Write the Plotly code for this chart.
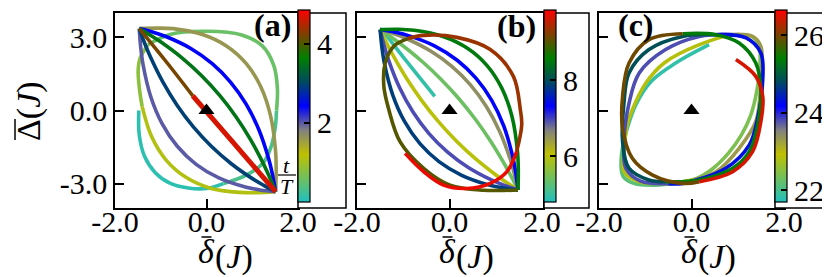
import plotly.graph_objects as go
from plotly.colors import sample_colorscale

W, H = 830, 277
SERIF = "Liberation Serif"

# ---- colour scale (t/T) ----
CSCALE = [[0.0, '#20c0c0'], [0.1, '#60c070'], [0.25, '#c0c000'], [0.375, '#808080'],
          [0.5, '#0000ff'], [0.625, '#004a60'], [0.75, '#008000'], [0.875, '#804000'],
          [1.0, '#ff0000']]

# ---- colour-bar ranges and ticks ----
CRANGE_A = [0.0, 4.85]
CRANGE_B = [4.8, 9.85]
CRANGE_C = [21.7, 26.65]
CTICKS_A = [2, 4]
CTICKS_B = [6, 8]
CTICKS_C = [22, 24, 26]

# ---- axis ticks ----
XTICKS = [-2, 0, 2]
XTICKTEXT = ['-2.0', '0.0', '2.0']
YTICKS = [-3, 0, 3]
YTICKTEXT = ['-3.0', '0.0', '3.0']

# ---- panel (a): time of each arc, delta-bar and Delta-bar points ----
T_A = [0.1, 0.32, 0.55, 0.82, 1.1, 1.6, 2.0, 2.45, 2.95, 3.5, 4.2, 4.65]
DX_A = [
    [-1.48, -1.47, -1.35, -1.12, -0.8, -0.4, 0.0, 0.37],
    [0.37, 0.87, 1.23, 1.4, 1.5, 1.53],
    [1.53, 1.55, 1.47, 1.22, 0.77, 0.0, -0.8, -1.28],
    [-1.28, -1.45, -1.494, -1.464, -1.406],
    [-1.406, -1.203, -0.887, -0.458, 0.084, 0.741, 1.111, 1.51],
    [1.51, 1.523, 1.509, 1.402, 1.189, 0.869, 0.444, -0.088, -0.726, -1.085, -1.47],
    [-1.47, -1.438, -1.386, -1.22, -0.971, -0.639, -0.226, 0.27, 0.849, 1.169, 1.51],
    [1.51, 1.443, 1.36, 1.147, 0.87, 0.529, 0.125, -0.343, -0.875, -1.165, -1.47],
    [-1.47, -1.356, -1.232, -0.955, -0.64, -0.287, 0.105, 0.535, 1.003, 1.252, 1.51],
    [1.51, 1.387, 1.255, 0.966, 0.644, 0.288, -0.101, -0.524, -0.98, -1.221, -1.47],
    [-1.47, -0.88, -0.3],
    [-0.3, 0.6, 1.51],
]
DY_A = [
    [0.0, -1.0, -1.9, -2.55, -2.98, -3.18, -3.2, -3.0],
    [-3.0, -2.65, -2.17, -1.55, -0.73, 0.0],
    [0.0, 0.9, 1.85, 2.65, 3.1, 3.25, 3.12, 2.7],
    [2.7, 2.15, 1.633, 0.864, 0.159],
    [0.159, -1.058, -2.022, -2.731, -3.186, -3.36, -3.37, -3.33],
    [-3.33, -2.465, -1.66, -0.228, 0.966, 1.922, 2.639, 3.117, 3.358, 3.38, 3.36],
    [3.36, 2.595, 1.876, 0.577, -0.537, -1.466, -2.209, -2.768, -3.141, -3.259, -3.33],
    [-3.33, -2.644, -1.994, -0.801, 0.25, 1.157, 1.922, 2.544, 3.024, 3.209, 3.36],
    [3.36, 2.78, 2.222, 1.171, 0.205, -0.674, -1.467, -2.174, -2.795, -3.073, -3.33],
    [-3.33, -2.771, -2.23, -1.206, -0.257, 0.617, 1.416, 2.139, 2.787, 3.083, 3.36],
    [3.36, 2.0, 0.6],
    [0.6, -1.35, -3.33],
]

# ---- panel (b) ----
T_B = [4.95, 5.4, 6.0, 6.55, 6.95, 7.35, 7.85, 8.5, 9.0, 9.35, 9.75]
DX_B = [
    [-0.32, -0.9, -1.43],
    [-1.5, -1.265, -1.036, -0.598, -0.187, 0.199, 0.558, 0.892, 1.199, 1.343, 1.48],
    [1.48, 1.241, 1.009, 0.566, 0.152, -0.235, -0.593, -0.924, -1.226, -1.366, -1.5],
    [-1.5, -1.205, -0.925, -0.409, 0.05, 0.452, 0.795, 1.081, 1.31, 1.402, 1.48],
    [1.48, 1.191, 0.916, 0.406, -0.048, -0.448, -0.793, -1.084, -1.319, -1.416, -1.5],
    [-1.5, -1.177, -0.872, -0.316, 0.166, 0.575, 0.911, 1.174, 1.363, 1.431, 1.48],
    [1.48, 1.146, 0.832, 0.263, -0.228, -0.64, -0.973, -1.227, -1.403, -1.461, -1.5],
    [-1.5, -1.121, -0.768, -0.139, 0.387, 0.811, 1.132, 1.351, 1.467, 1.486, 1.48],
    [1.48, 0.73, 0.01, -0.56, -1.07, -1.32, -1.42, -1.39, -1.2, -0.9],
    [-0.9, -0.56, 0.16, 0.88, 1.38, 1.53, 1.56, 1.45],
    [1.45, 1.24, 0.88, 0.37, -0.13, -0.56, -0.96],
]
DY_B = [
    [0.58, 1.95, 3.25],
    [3.32, 3.017, 2.699, 2.021, 1.285, 0.492, -0.36, -1.269, -2.236, -2.74, -3.26],
    [-3.26, -2.965, -2.655, -1.988, -1.258, -0.467, 0.387, 1.302, 2.28, 2.792, 3.32],
    [3.32, 3.148, 2.944, 2.44, 1.809, 1.05, 0.164, -0.85, -1.991, -2.61, -3.26],
    [-3.26, -3.075, -2.861, -2.34, -1.699, -0.937, -0.054, 0.95, 2.074, 2.682, 3.32],
    [3.32, 3.211, 3.062, 2.644, 2.063, 1.321, 0.418, -0.646, -1.873, -2.546, -3.26],
    [-3.26, -3.174, -3.046, -2.658, -2.096, -1.36, -0.451, 0.632, 1.889, 2.583, 3.32],
    [3.32, 3.334, 3.291, 3.035, 2.552, 1.843, 0.907, -0.255, -1.644, -2.424, -3.26],
    [-3.26, -3.27, -3.06, -2.37, -1.28, 0.09, 1.0, 1.95, 2.65, 2.95],
    [2.95, 3.08, 3.0, 2.5, 1.4, 0.03, -0.59, -1.69],
    [-1.69, -2.51, -2.99, -3.2, -3.06, -2.51, -1.76],
]

# ---- panel (c) ----
T_C = [21.85, 22.15, 22.4, 22.85, 23.3, 23.8, 24.3, 24.85, 25.35, 25.95, 26.45]
DX_C = [
    [0.38, -0.34, -0.87, -1.2, -1.41],
    [-1.41, -1.52, -1.48, -1.23, -0.79, -0.3],
    [-0.3, 0.1, 0.45, 0.8, 1.08, 1.28, 1.41, 1.48, 1.46, 1.3],
    [1.3, 0.89, 0.17, -0.59, -0.99, -1.28, -1.39, -1.46, -1.46, -1.13, -0.56, 0.02],
    [0.02, 0.53, 1.03, 1.39, 1.5, 1.5, 1.32, 0.9],
    [0.9, 0.17, -0.56, -1.13, -1.35, -1.46, -1.42, -1.1, -0.5],
    [-0.5, -0.19, 0.74, 1.25, 1.43, 1.54, 1.5, 1.18, 0.53],
    [0.53, -0.19, -0.92, -1.35, -1.46, -1.49, -1.35, -0.92, -0.56],
    [-0.56, 0.17, 0.89, 1.25, 1.43, 1.5, 1.39, 1.03, 0.53, -0.19],
    [-0.19, -0.92, -1.35, -1.49, -1.49, -1.28, -0.84, -0.19, 0.17],
    [0.17, 0.89, 1.32, 1.5, 1.54, 1.39, 0.96],
]
DY_C = [
    [2.7, 1.95, 1.2, 0.25, -0.86],
    [-0.86, -1.96, -2.7, -3.0, -3.06, -2.97],
    [-2.97, -2.8, -2.4, -1.75, -1.0, -0.2, 0.78, 1.9, 2.7, 3.05],
    [3.05, 3.1, 2.7, 1.95, 1.12, 0.03, -0.59, -1.69, -2.51, -2.92, -2.99, -2.85],
    [-2.85, -2.51, -1.55, -0.45, 1.26, 2.63, 3.04, 3.12],
    [3.12, 3.04, 2.5, 1.54, 0.3, -1.28, -2.37, -2.9, -3.0],
    [-3.0, -2.99, -2.37, -1.41, -0.32, 1.26, 2.36, 2.98, 3.11],
    [3.11, 3.04, 2.5, 1.54, 0.3, -1.28, -2.37, -2.85, -2.92],
    [-2.92, -2.85, -2.37, -1.69, -0.59, 0.85, 1.95, 2.77, 3.11, 3.15],
    [3.15, 2.91, 1.95, 0.58, -0.73, -1.96, -2.65, -2.99, -2.92],
    [-2.92, -2.51, -1.69, -0.45, 0.58, 1.4, 2.09],
]

PANEL_LABELS = ['(a)', '(b)', '(c)']

# ---------------- figure ----------------
fig = go.Figure()

panels = [
    ('x', 'y', 'coloraxis', T_A, DX_A, DY_A, CRANGE_A),
    ('x2', 'y2', 'coloraxis2', T_B, DX_B, DY_B, CRANGE_B),
    ('x3', 'y3', 'coloraxis3', T_C, DX_C, DY_C, CRANGE_C),
]

for xa, ya, cax, T, DX, DY, cr in panels:
    fracs = [(t - cr[0]) / (cr[1] - cr[0]) for t in T]
    cols = sample_colorscale(CSCALE, fracs)
    for k, (xs, ys) in enumerate(zip(DX, DY)):
        wid = 5 if (xa == 'x' and k == len(DX) - 1) else 3.6
        fig.add_trace(go.Scatter(x=xs, y=ys, mode='lines', xaxis=xa, yaxis=ya,
                                 line=dict(color=cols[k], width=wid, shape='spline', smoothing=1.0),
                                 showlegend=False, hoverinfo='skip'))
    # trace carrying the colour bar
    fig.add_trace(go.Scatter(x=[0], y=[0], mode='markers', xaxis=xa, yaxis=ya,
                             marker=dict(size=1, color=[cr[0]], coloraxis=cax),
                             showlegend=False, hoverinfo='skip'))
    fig.add_trace(go.Scatter(x=[0], y=[0], mode='markers', xaxis=xa, yaxis=ya,
                             marker=dict(symbol='triangle-up', size=14, color='black'),
                             showlegend=False, hoverinfo='skip'))


def px(x):
    return x / W


def py(y):
    return 1 - y / H


tickfont = dict(family=SERIF, size=30, color='black')
ydom = [py(200), py(5)]
xdoms = [[px(107), px(290)], [px(349), px(535)], [px(591), px(776)]]

axis_common = dict(ticks='inside', ticklen=9, tickwidth=2, tickcolor='black', showline=True,
                   mirror=True, linecolor='black', linewidth=1.5, showgrid=False,
                   zeroline=False, tickfont=tickfont, fixedrange=True, automargin=False)

layout = dict(width=W, height=H, margin=dict(l=0, r=0, t=0, b=0, autoexpand=False),
              paper_bgcolor='white', plot_bgcolor='white', showlegend=False)

for i, dom in enumerate(xdoms):
    sfx = '' if i == 0 else str(i + 1)
    layout['xaxis' + sfx] = dict(domain=dom, range=[-2, 2.02 if i == 1 else 2], tickvals=XTICKS,
                                 ticktext=XTICKTEXT, anchor='y' + sfx, ticklabelstandoff=-14,
                                 **axis_common)
    layout['yaxis' + sfx] = dict(domain=ydom, range=[-4, 4], tickvals=YTICKS, ticktext=YTICKTEXT,
                                 anchor='x' + sfx, showticklabels=(i == 0), **axis_common)

cb_x = [290, 536, 767]
cb_right = [338, 581, 822]
cranges = [CRANGE_A, CRANGE_B, CRANGE_C]
cticks = [CTICKS_A, CTICKS_B, CTICKS_C]
for i in range(3):
    sfx = '' if i == 0 else str(i + 1)
    layout['coloraxis' + sfx] = dict(
        colorscale=CSCALE, cmin=cranges[i][0], cmax=cranges[i][1],
        colorbar=dict(x=px(cb_x[i]), xanchor='left', xpad=0, y=py(2), yanchor='top', ypad=0,
                      len=192, lenmode='pixels', thickness=12, thicknessmode='pixels',
                      outlinewidth=1.2, outlinecolor='black', tickvals=cticks[i],
                      ticks='inside', ticklen=6, tickwidth=1.5, tickcolor='black',
                      tickfont=dict(family=SERIF, size=30, color='black'),
                      bgcolor='rgba(0,0,0,0)', borderwidth=0))

shapes = []
for i in range(3):
    shapes.append(dict(type='rect', xref='paper', yref='paper', x0=px(cb_x[i]), x1=px(cb_right[i]),
                       y0=py(200), y1=py(5), fillcolor='white', line=dict(color='black', width=1.5),
                       layer='above'))
# fraction bar of t/T
shapes.append(dict(type='line', xref='paper', yref='paper', x0=px(270), x1=px(288), y0=py(167),
                   y1=py(167), line=dict(color='black', width=1.2), layer='above'))
# bars over delta (x titles) and Delta (y title)
for dc in [198.5, 439.5, 681.5]:
    shapes.append(dict(type='line', xref='paper', yref='paper', x0=px(dc - 5), x1=px(dc + 5),
                       y0=py(229), y1=py(229), line=dict(color='black', width=1.5)))
shapes.append(dict(type='line', xref='paper', yref='paper', x0=px(7), x1=px(7), y0=py(111),
                   y1=py(132), line=dict(color='black', width=1.5)))
layout['shapes'] = shapes

ann = []
lab_pos = [(264, 17), (508, 18), (628, 17)]
for i, (lx, ly) in enumerate(lab_pos):
    ann.append(dict(text='<b>' + PANEL_LABELS[i] + '</b>', x=px(lx), y=py(ly), xref='paper',
                    yref='paper', showarrow=False, xanchor='center', yanchor='middle',
                    font=dict(family=SERIF, size=32, color='black')))
for dc in [198.5, 439.5, 681.5]:
    ann.append(dict(text='<i>δ</i>', x=px(dc), y=py(243), xref='paper', yref='paper',
                    showarrow=False, xanchor='center', yanchor='middle',
                    font=dict(family=SERIF, size=34, color='black')))
    ann.append(dict(text='(<i>J</i>)', x=px(dc + 6), y=py(249), xref='paper', yref='paper',
                    showarrow=False, xanchor='left', yanchor='middle',
                    font=dict(family=SERIF, size=34, color='black')))
ann.append(dict(text='Δ(<i>J</i>)', x=px(21), y=py(103), xref='paper', yref='paper', textangle=-90,
                showarrow=False, xanchor='center', yanchor='middle',
                font=dict(family=SERIF, size=34, color='black')))
ann.append(dict(text='<i>t</i>', x=px(278), y=py(157), xref='paper', yref='paper', showarrow=False,
                xanchor='center', yanchor='middle', font=dict(family=SERIF, size=22, color='black')))
ann.append(dict(text='<i>T</i>', x=px(279), y=py(178), xref='paper', yref='paper', showarrow=False,
                xanchor='center', yanchor='middle', font=dict(family=SERIF, size=22, color='black')))
layout['annotations'] = ann

fig.update_layout(**layout)
fig.write_html("out.html")
